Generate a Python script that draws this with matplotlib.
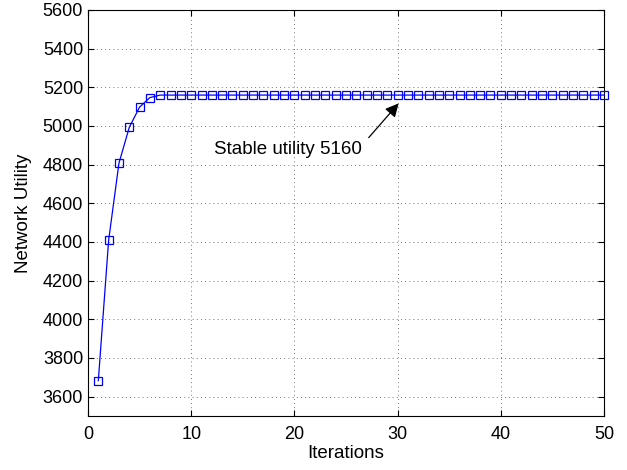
import matplotlib
matplotlib.use("Agg")
import matplotlib.pyplot as plt
import numpy as np

plt.rcParams["font.family"] = ["Liberation Sans", "DejaVu Sans"]

iterations = list(range(1, 51))
utility = [3683, 4409, 4808, 4993, 5098, 5147] + [5160] * 44

fig = plt.figure(figsize=(6.27, 4.70), dpi=100)
ax = fig.add_axes([88 / 627, 54 / 470, 516 / 627, 406 / 470])

ax.plot(iterations, utility, color="#0000ff", linewidth=0.9, marker="s",
        markersize=6, markerfacecolor="none", markeredgecolor="#0000ff",
        markeredgewidth=0.9, clip_on=False, zorder=3)

# label and arrow drawn separately so the arrow starts right of the text
ax.text(12.2, 4878, "Stable utility 5160", fontsize=13.5, ha="left", va="center")
ax.annotate("", xy=(30.1, 5117), xytext=(27.2, 4940),
            arrowprops=dict(arrowstyle="-|>", color="black", lw=0.9,
                            mutation_scale=20, shrinkA=0, shrinkB=0))

ax.set_xlim(0, 50)
ax.set_ylim(3500, 5600)
ax.set_xticks(np.arange(0, 51, 10))
ax.set_yticks(np.arange(3600, 5601, 200))
ax.set_xlabel("Iterations", fontsize=13.5, labelpad=2)
ax.set_ylabel("Network Utility", fontsize=13.5, labelpad=8)
ax.tick_params(direction="in", labelsize=13, top=True, right=True, length=4)
ax.tick_params(axis="x", pad=7)
ax.grid(True, color="black", linestyle=(0, (1, 4)), linewidth=0.6, alpha=0.7)
for s in ax.spines.values():
    s.set_linewidth(0.8)

fig.savefig("out.png", dpi=100)
